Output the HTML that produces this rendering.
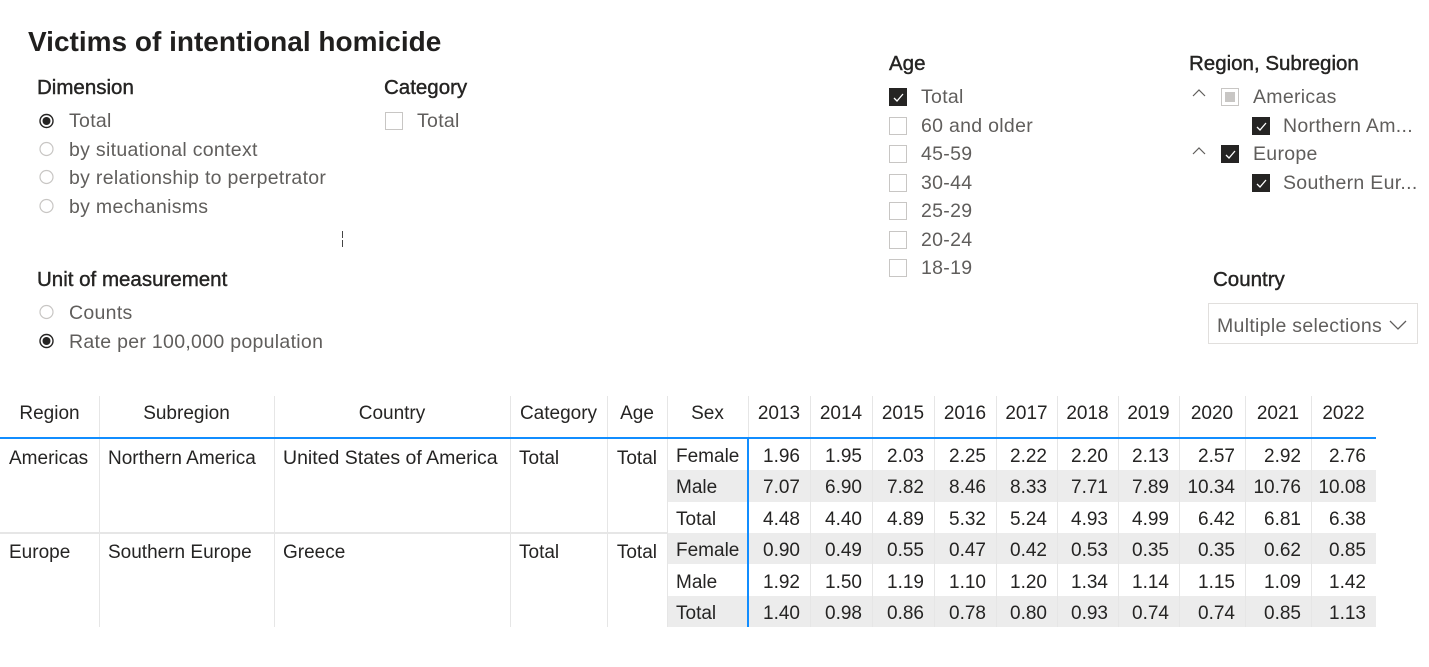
<!DOCTYPE html>
<html><head><meta charset="utf-8">
<style>
*{margin:0;padding:0;box-sizing:border-box}
html,body{width:1429px;height:667px;background:#fff;overflow:hidden}
body{position:relative;font-family:"Liberation Sans",sans-serif;color:#252423}
.a{position:absolute;white-space:nowrap}
.wrap{position:absolute;left:0;top:1px;width:1429px;height:380px}
.title{left:28px;top:24px;font-size:28px;font-weight:bold;line-height:34px;color:#201f1e}
.hd{font-size:20.5px;line-height:26px;color:#252423;-webkit-text-stroke:0.4px #252423}
.it{font-size:19.5px;letter-spacing:0.3px;line-height:24px;color:#605e5c}
.cb{position:absolute;width:18px;height:18px;border:1px solid #c8c6c4;background:#fff}
.cb.on{background:#252423;border-color:#252423}
.cb svg{position:absolute;left:2px;top:2px}
.rd{position:absolute}
.tb{position:absolute;font-size:19px;color:#252423}
.hrow{position:absolute;left:0;top:396px;height:41px;width:1376px}
.hc{position:absolute;top:0;height:41px;padding-top:2px;line-height:32px;text-align:center;font-size:19px}
.vl{position:absolute;width:1px;background:#e6e6e6}
.row{position:absolute;left:667px;width:709px}
.c{position:absolute;top:0;height:100%;text-align:right;padding-right:10px;font-size:19px}
.g{background:#ececec}
</style></head><body>

<div class="wrap">
<div class="a title">Victims of intentional homicide</div>

<!-- Dimension -->
<div class="a hd" style="left:37px;top:74px">Dimension</div>
<svg class="rd" style="left:38px;top:111px" width="18" height="18"><circle cx="8.5" cy="9" r="6.5" fill="none" stroke="#252423" stroke-width="1.4"/><circle cx="8.5" cy="9" r="4" fill="#252423"/></svg>
<div class="a it" style="left:69px;top:108px">Total</div>
<svg class="rd" style="left:38px;top:140px" width="18" height="18"><circle cx="8.5" cy="8" r="6.5" fill="none" stroke="#c8c6c4" stroke-width="1.2"/></svg>
<div class="a it" style="left:69px;top:137px">by situational context</div>
<svg class="rd" style="left:38px;top:168px" width="18" height="18"><circle cx="8.5" cy="8" r="6.5" fill="none" stroke="#c8c6c4" stroke-width="1.2"/></svg>
<div class="a it" style="left:69px;top:165px">by relationship to perpetrator</div>
<svg class="rd" style="left:38px;top:197px" width="18" height="18"><circle cx="8.5" cy="8" r="6.5" fill="none" stroke="#c8c6c4" stroke-width="1.2"/></svg>
<div class="a it" style="left:69px;top:194px">by mechanisms</div>

<div class="a" style="left:342px;top:230px;width:1px;height:7px;background:#444"></div>
<div class="a" style="left:342px;top:239px;width:1px;height:7px;background:#444"></div>

<!-- Category -->
<div class="a hd" style="left:384px;top:74px">Category</div>
<div class="cb" style="left:385px;top:111px"></div>
<div class="a it" style="left:417px;top:108px">Total</div>

<!-- Unit -->
<div class="a hd" style="left:37px;top:266px">Unit of measurement</div>
<svg class="rd" style="left:38px;top:303px" width="18" height="18"><circle cx="8.5" cy="8" r="6.5" fill="none" stroke="#c8c6c4" stroke-width="1.2"/></svg>
<div class="a it" style="left:69px;top:300px">Counts</div>
<svg class="rd" style="left:38px;top:332px" width="18" height="18"><circle cx="8.5" cy="8" r="6.5" fill="none" stroke="#252423" stroke-width="1.4"/><circle cx="8.5" cy="8" r="4" fill="#252423"/></svg>
<div class="a it" style="left:69px;top:329px">Rate per 100,000 population</div>

<!-- Age -->
<div class="a hd" style="left:889px;top:50px">Age</div>
<div class="cb on" style="left:889px;top:87px"><svg width="13" height="13"><polyline points="2,7 5,10 11,3" fill="none" stroke="#fff" stroke-width="1.3"/></svg></div>
<div class="a it" style="left:921px;top:84px">Total</div>
<div class="cb" style="left:889px;top:116px"></div>
<div class="a it" style="left:921px;top:113px">60 and older</div>
<div class="cb" style="left:889px;top:144px"></div>
<div class="a it" style="left:921px;top:141px">45-59</div>
<div class="cb" style="left:889px;top:173px"></div>
<div class="a it" style="left:921px;top:170px">30-44</div>
<div class="cb" style="left:889px;top:201px"></div>
<div class="a it" style="left:921px;top:198px">25-29</div>
<div class="cb" style="left:889px;top:230px"></div>
<div class="a it" style="left:921px;top:227px">20-24</div>
<div class="cb" style="left:889px;top:258px"></div>
<div class="a it" style="left:921px;top:255px">18-19</div>

<!-- Region -->
<div class="a hd" style="left:1189px;top:50px">Region, Subregion</div>
<svg class="a" style="left:1191px;top:86px" width="16" height="12"><polyline points="2,9 8,3 14,9" fill="none" stroke="#605e5c" stroke-width="1.2"/></svg>
<div class="cb" style="left:1221px;top:87px"><div style="position:absolute;left:3px;top:3px;width:10px;height:10px;background:#c8c6c4"></div></div>
<div class="a it" style="left:1253px;top:84px">Americas</div>
<div class="cb on" style="left:1252px;top:116px"><svg width="13" height="13"><polyline points="2,7 5,10 11,3" fill="none" stroke="#fff" stroke-width="1.3"/></svg></div>
<div class="a it" style="left:1283px;top:113px">Northern Am...</div>
<svg class="a" style="left:1191px;top:144px" width="16" height="12"><polyline points="2,9 8,3 14,9" fill="none" stroke="#605e5c" stroke-width="1.2"/></svg>
<div class="cb on" style="left:1221px;top:144px"><svg width="13" height="13"><polyline points="2,7 5,10 11,3" fill="none" stroke="#fff" stroke-width="1.3"/></svg></div>
<div class="a it" style="left:1253px;top:141px">Europe</div>
<div class="cb on" style="left:1252px;top:173px"><svg width="13" height="13"><polyline points="2,7 5,10 11,3" fill="none" stroke="#fff" stroke-width="1.3"/></svg></div>
<div class="a it" style="left:1283px;top:170px">Southern Eur...</div>

<!-- Country -->
<div class="a hd" style="left:1213px;top:266px">Country</div>
<div class="a" style="left:1208px;top:302px;width:210px;height:41px;border:1px solid #e1dfdd"></div>
<div class="a it" style="left:1217px;top:313px">Multiple selections</div>
<svg class="a" style="left:1388px;top:317px" width="22" height="14"><polyline points="2,3 10,11 18,3" fill="none" stroke="#605e5c" stroke-width="1.3"/></svg>
</div>

<!-- TABLE HEADER -->
<div class="hrow">
<div class="hc" style="left:0;width:99px">Region</div>
<div class="hc" style="left:99px;width:175px">Subregion</div>
<div class="hc" style="left:274px;width:236px">Country</div>
<div class="hc" style="left:510px;width:97px">Category</div>
<div class="hc" style="left:607px;width:60px">Age</div>
<div class="hc" style="left:667px;width:81px">Sex</div>
<div class="hc" style="left:748px;width:62px">2013</div>
<div class="hc" style="left:810px;width:62px">2014</div>
<div class="hc" style="left:872px;width:62px">2015</div>
<div class="hc" style="left:934px;width:62px">2016</div>
<div class="hc" style="left:996px;width:61px">2017</div>
<div class="hc" style="left:1057px;width:61px">2018</div>
<div class="hc" style="left:1118px;width:61px">2019</div>
<div class="hc" style="left:1179px;width:66px">2020</div>
<div class="hc" style="left:1245px;width:66px">2021</div>
<div class="hc" style="left:1311px;width:65px">2022</div>
</div>
<!-- header separators -->
<div class="vl" style="left:99px;top:396px;height:41px"></div>
<div class="vl" style="left:274px;top:396px;height:41px"></div>
<div class="vl" style="left:510px;top:396px;height:41px"></div>
<div class="vl" style="left:607px;top:396px;height:41px"></div>
<div class="vl" style="left:667px;top:396px;height:41px"></div>
<div class="vl" style="left:748px;top:396px;height:41px"></div>
<div class="vl" style="left:810px;top:396px;height:41px"></div>
<div class="vl" style="left:872px;top:396px;height:41px"></div>
<div class="vl" style="left:934px;top:396px;height:41px"></div>
<div class="vl" style="left:996px;top:396px;height:41px"></div>
<div class="vl" style="left:1057px;top:396px;height:41px"></div>
<div class="vl" style="left:1118px;top:396px;height:41px"></div>
<div class="vl" style="left:1179px;top:396px;height:41px"></div>
<div class="vl" style="left:1245px;top:396px;height:41px"></div>
<div class="vl" style="left:1311px;top:396px;height:41px"></div>

<!-- value rows -->
<div class="row" style="top:439px;height:31px">
<div class="c" style="left:0;width:81px;text-align:left;padding-left:9px;line-height:35px">Female</div>
<div class="c" style="left:81px;width:62px;line-height:35px">1.96</div><div class="c" style="left:143px;width:62px;line-height:35px">1.95</div><div class="c" style="left:205px;width:62px;line-height:35px">2.03</div><div class="c" style="left:267px;width:62px;line-height:35px">2.25</div><div class="c" style="left:329px;width:61px;line-height:35px">2.22</div><div class="c" style="left:390px;width:61px;line-height:35px">2.20</div><div class="c" style="left:451px;width:61px;line-height:35px">2.13</div><div class="c" style="left:512px;width:66px;line-height:35px">2.57</div><div class="c" style="left:578px;width:66px;line-height:35px">2.92</div><div class="c" style="left:644px;width:65px;line-height:35px">2.76</div>
</div>
<div class="row g" style="top:470px;height:32px">
<div class="c" style="left:0;width:81px;text-align:left;padding-left:9px;line-height:36px">Male</div>
<div class="c" style="left:81px;width:62px;line-height:36px">7.07</div><div class="c" style="left:143px;width:62px;line-height:36px">6.90</div><div class="c" style="left:205px;width:62px;line-height:36px">7.82</div><div class="c" style="left:267px;width:62px;line-height:36px">8.46</div><div class="c" style="left:329px;width:61px;line-height:36px">8.33</div><div class="c" style="left:390px;width:61px;line-height:36px">7.71</div><div class="c" style="left:451px;width:61px;line-height:36px">7.89</div><div class="c" style="left:512px;width:66px;line-height:36px">10.34</div><div class="c" style="left:578px;width:66px;line-height:36px">10.76</div><div class="c" style="left:644px;width:65px;line-height:36px">10.08</div>
</div>
<div class="row" style="top:502px;height:31px">
<div class="c" style="left:0;width:81px;text-align:left;padding-left:9px;line-height:36px">Total</div>
<div class="c" style="left:81px;width:62px;line-height:36px">4.48</div><div class="c" style="left:143px;width:62px;line-height:36px">4.40</div><div class="c" style="left:205px;width:62px;line-height:36px">4.89</div><div class="c" style="left:267px;width:62px;line-height:36px">5.32</div><div class="c" style="left:329px;width:61px;line-height:36px">5.24</div><div class="c" style="left:390px;width:61px;line-height:36px">4.93</div><div class="c" style="left:451px;width:61px;line-height:36px">4.99</div><div class="c" style="left:512px;width:66px;line-height:36px">6.42</div><div class="c" style="left:578px;width:66px;line-height:36px">6.81</div><div class="c" style="left:644px;width:65px;line-height:36px">6.38</div>
</div>
<div class="row g" style="top:533px;height:31px">
<div class="c" style="left:0;width:81px;text-align:left;padding-left:9px;line-height:36px">Female</div>
<div class="c" style="left:81px;width:62px;line-height:36px">0.90</div><div class="c" style="left:143px;width:62px;line-height:36px">0.49</div><div class="c" style="left:205px;width:62px;line-height:36px">0.55</div><div class="c" style="left:267px;width:62px;line-height:36px">0.47</div><div class="c" style="left:329px;width:61px;line-height:36px">0.42</div><div class="c" style="left:390px;width:61px;line-height:36px">0.53</div><div class="c" style="left:451px;width:61px;line-height:36px">0.35</div><div class="c" style="left:512px;width:66px;line-height:36px">0.35</div><div class="c" style="left:578px;width:66px;line-height:36px">0.62</div><div class="c" style="left:644px;width:65px;line-height:36px">0.85</div>
</div>
<div class="row" style="top:564px;height:32px">
<div class="c" style="left:0;width:81px;text-align:left;padding-left:9px;line-height:38px">Male</div>
<div class="c" style="left:81px;width:62px;line-height:38px">1.92</div><div class="c" style="left:143px;width:62px;line-height:38px">1.50</div><div class="c" style="left:205px;width:62px;line-height:38px">1.19</div><div class="c" style="left:267px;width:62px;line-height:38px">1.10</div><div class="c" style="left:329px;width:61px;line-height:38px">1.20</div><div class="c" style="left:390px;width:61px;line-height:38px">1.34</div><div class="c" style="left:451px;width:61px;line-height:38px">1.14</div><div class="c" style="left:512px;width:66px;line-height:38px">1.15</div><div class="c" style="left:578px;width:66px;line-height:38px">1.09</div><div class="c" style="left:644px;width:65px;line-height:38px">1.42</div>
</div>
<div class="row g" style="top:596px;height:31px">
<div class="c" style="left:0;width:81px;text-align:left;padding-left:9px;line-height:36px">Total</div>
<div class="c" style="left:81px;width:62px;line-height:36px">1.40</div><div class="c" style="left:143px;width:62px;line-height:36px">0.98</div><div class="c" style="left:205px;width:62px;line-height:36px">0.86</div><div class="c" style="left:267px;width:62px;line-height:36px">0.78</div><div class="c" style="left:329px;width:61px;line-height:36px">0.80</div><div class="c" style="left:390px;width:61px;line-height:36px">0.93</div><div class="c" style="left:451px;width:61px;line-height:36px">0.74</div><div class="c" style="left:512px;width:66px;line-height:36px">0.74</div><div class="c" style="left:578px;width:66px;line-height:36px">0.85</div><div class="c" style="left:644px;width:65px;line-height:36px">1.13</div>
</div>

<!-- body vertical gridlines -->
<div class="vl" style="left:99px;top:439px;height:188px"></div>
<div class="vl" style="left:274px;top:439px;height:188px"></div>
<div class="vl" style="left:510px;top:439px;height:188px"></div>
<div class="vl" style="left:607px;top:439px;height:188px"></div>
<div class="vl" style="left:667px;top:439px;height:188px"></div>
<div class="vl" style="left:810px;top:439px;height:188px"></div>
<div class="vl" style="left:872px;top:439px;height:188px"></div>
<div class="vl" style="left:934px;top:439px;height:188px"></div>
<div class="vl" style="left:996px;top:439px;height:188px"></div>
<div class="vl" style="left:1057px;top:439px;height:188px"></div>
<div class="vl" style="left:1118px;top:439px;height:188px"></div>
<div class="vl" style="left:1179px;top:439px;height:188px"></div>
<div class="vl" style="left:1245px;top:439px;height:188px"></div>
<div class="vl" style="left:1311px;top:439px;height:188px"></div>
<!-- group separator -->
<div class="a" style="left:0;top:532px;width:667px;height:2px;background:#e6e6e6"></div>
<!-- blue lines -->
<div class="a" style="left:0;top:437px;width:1376px;height:2px;background:#118dff"></div>
<div class="a" style="left:747px;top:439px;width:2px;height:188px;background:#118dff"></div>

<!-- group text -->
<div class="a tb" style="left:9px;top:443px;line-height:31px">Americas</div>
<div class="a tb" style="left:108px;top:443px;line-height:31px">Northern America</div>
<div class="a tb" style="left:283px;top:443px;line-height:31px;font-size:19.5px">United States of America</div>
<div class="a tb" style="left:519px;top:443px;line-height:31px">Total</div>
<div class="a tb" style="left:607px;top:443px;width:50px;text-align:right;line-height:31px">Total</div>

<div class="a tb" style="left:9px;top:537px;line-height:31px">Europe</div>
<div class="a tb" style="left:108px;top:537px;line-height:31px">Southern Europe</div>
<div class="a tb" style="left:283px;top:537px;line-height:31px">Greece</div>
<div class="a tb" style="left:519px;top:537px;line-height:31px">Total</div>
<div class="a tb" style="left:607px;top:537px;width:50px;text-align:right;line-height:31px">Total</div>

</body></html>
